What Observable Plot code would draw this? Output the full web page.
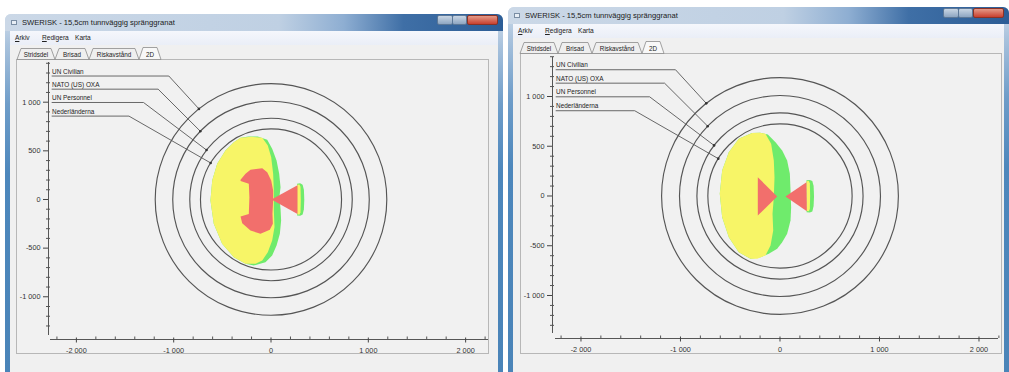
<!DOCTYPE html>
<html>
<head>
<meta charset="utf-8">
<script src="https://cdn.jsdelivr.net/npm/d3@7"></script>
<script src="https://cdn.jsdelivr.net/npm/@observablehq/plot@0.6"></script>
<style>
  html, body { margin:0; padding:0; background:#fff; width:1009px; height:372px; overflow:hidden; font-family:'Liberation Sans', Arial, sans-serif; }
  .abs { position:absolute; box-sizing:border-box; }
  .frame { border-radius:6px 6px 0 0; background:linear-gradient(180deg,#cfdcea 0px,#aac3dd 30px,#6f9dc9 90px,#4d87bc 160px,#4a84b8 100%); }
  .titlebar { border-radius:6px 6px 0 0; background:linear-gradient(90deg,#cbd8e7 0%,#bfd0e3 55%,#8eaed2 68%,#3f6fa6 80%,#2c5d96 100%); }
  .ttext { font-size:7.6px; color:#1b1b1b; white-space:nowrap; }
  .client { background:#f0f0f0; }
  .menu { background:linear-gradient(180deg,#f5f7fc,#eaeef7); font-size:6.6px; color:#222; }
  .menu span { position:absolute; top:3px; }
  .panel { border:1px solid #b7b7b7; background:#f1f1f1; }
  .btn { border:1px solid #5d7897; border-radius:2px; }
</style>
</head>
<body>
<script>
// ---------------- data ----------------
const labelNames = ["UN Civilian", "NATO (US) OXA", "UN Personnel", "Nederländerna"];
const radii      = [1190, 1010, 835, 725];          // safety-distance circles (m)
const dotAngle   = [128.5, 136, 142.5, 148.8];      // where each leader line meets its circle (deg)
const labelY     = [1269, 1134, 997, 857];          // label rows (m)
const elbowX     = [-1050, -1160, -1310, -1460];    // end of underline (m)
const labelX     = -2250;
const xMajorTicks = [-2000, -1000, 0, 1000, 2000];
const yMajorTicks = [-1000, -500, 0, 500, 1000];
const xMinorTicks = [-2200,-1800,-1600,-1400,-1200,-800,-600,-400,-200,200,400,600,800,1200,1400,1600,1800,2200];
const yMinorTicks = [-1300,-1200,-1100,-900,-800,-700,-600,-400,-300,-200,-100,100,200,300,400,600,700,800,900,1100,1200,1300,1400];

// left screenshot shapes (m)
const leftGreen = [[-313,634],[-230,648],[-137,647],[-39,613],[12,521],[57,401],[84,264],[98,127],[86,22],[98,-96],[104,-216],[91,-353],[57,-473],[12,-576],[-57,-644],[-177,-678],[-262,-661],[-382,-593],[-502,-456],[-588,-250],[-622,-10],[-604,195],[-553,367],[-468,504],[-382,589]];
const leftYellow = [[-313,634],[-200,645],[-90,634],[-33,555],[2,435],[22,264],[29,92],[29,-113],[36,-284],[12,-421],[-33,-542],[-90,-627],[-159,-661],[-262,-661],[-382,-593],[-502,-456],[-588,-250],[-622,-10],[-604,195],[-553,367],[-468,504],[-382,589]];
const leftRed = [[-313,202],[-262,264],[-211,305],[-90,322],[-39,281],[2,195],[22,92],[22,-10],[15,-147],[19,-250],[-12,-312],[-108,-353],[-211,-319],[-296,-243],[-313,-175],[-228,-150],[-222,24],[-228,161],[-313,190]];
const leftWedgeGreen = [[268,162],[300,166],[325,152],[338,100],[342,0],[338,-100],[325,-154],[300,-168],[268,-164]];
const leftWedgeYellow = [[268,152],[292,154],[303,130],[306,0],[303,-130],[292,-156],[268,-152]];
const leftTriangles = [[[5,0],[272,146],[272,-150]]];

// right screenshot shapes (m)
const rightGreen = [[-280,632],[-200,636],[-122,618],[-45,541],[22,457],[72,357],[99,223],[106,55],[112,-112],[106,-246],[72,-380],[22,-464],[-28,-531],[-112,-581],[-196,-615],[-296,-631],[-414,-565],[-514,-414],[-581,-213],[-605,22],[-581,256],[-514,440],[-414,575]];
const rightYellow = [[-280,632],[-200,636],[-146,625],[-89,525],[-62,357],[-55,189],[-62,-12],[-75,-179],[-68,-347],[-95,-497],[-146,-598],[-229,-631],[-296,-631],[-414,-565],[-514,-414],[-581,-213],[-605,22],[-581,256],[-514,440],[-414,575]];
const rightWedgeGreen = [[266,158],[300,162],[325,150],[338,100],[342,0],[338,-100],[325,-155],[300,-166],[268,-163]];
const rightWedgeYellow = [[266,148],[290,150],[300,128],[303,0],[300,-130],[290,-154],[268,-152]];
const rightTriangles = [[[-223,189],[-28,-5],[-223,-196]], [[55,-5],[266,139],[270,-153]]];

const colors = { yellow:"#f7f567", green:"#6feb6c", red:"#f26f6c", ring:"#555", lead:"#585858" };
const fmt = d => String(d).replace(/\B(?=(\d{3})+(?!\d))/g, " ");

// ---------------- window chrome ----------------
const windows = [
  {x:5, y:14, w:498, panelL:16, panelT:59, panelR:489, panelB:354, btnR:5},
  {x:508, y:7, w:501, panelL:520, panelT:53, panelR:1002, panelB:354, btnR:5}
];
const tabs = [["Stridsdel",12,50],["Brisad",50,84],["Riskavstånd",84,134],["2D",134,156]];

function el(tag, cls, style, html) {
  const e = document.createElement(tag);
  e.className = cls; e.setAttribute("style", style); if (html) e.innerHTML = html;
  document.body.appendChild(e); return e;
}
for (const W of windows) {
  el("div","abs frame",`left:${W.x}px;top:${W.y}px;width:${W.w}px;height:${380-W.y}px`);
  el("div","abs titlebar",`left:${W.x}px;top:${W.y}px;width:${W.w}px;height:17px`);
  el("div","abs",`left:${W.x+6}px;top:${W.y+6}px;width:6px;height:5px;background:#e8eef5;border:1px solid #7a8da3`);
  el("div","abs ttext",`left:${W.x+17}px;top:${W.y+4}px`, "SWERISK - 15,5cm tunnväggig spränggranat");
  const br = W.x + W.w - W.btnR;
  el("div","abs btn",`left:${br-61}px;top:${W.y+1}px;width:16px;height:10px;background:linear-gradient(#c9d6e4,#8ea6c2)`);
  el("div","abs btn",`left:${br-46}px;top:${W.y+1}px;width:15px;height:10px;background:linear-gradient(#c9d6e4,#8ea6c2)`);
  el("div","abs btn",`left:${br-31}px;top:${W.y+1}px;width:31px;height:10px;background:linear-gradient(#e49a88,#c9402f);border-color:#8a3226`);
  el("div","abs client",`left:${W.x+5}px;top:${W.y+17}px;width:${W.w-10}px;height:${372-W.y}px`);
  el("div","abs menu",`left:${W.x+5}px;top:${W.y+17}px;width:${W.w-10}px;height:14px`,
     `<span style="left:5px"><u>A</u>rkiv</span><span style="left:32px"><u>R</u>edigera</span><span style="left:65px">Karta</span>`);
  el("div","abs panel",`left:${W.panelL}px;top:${W.panelT}px;width:${W.panelR-W.panelL}px;height:${W.panelB-W.panelT}px`);
  // tabs
  const ts = document.createElementNS("http://www.w3.org/2000/svg","svg");
  ts.setAttribute("width", W.w); ts.setAttribute("height", 13);
  ts.setAttribute("style", `position:absolute;left:${W.x}px;top:${W.panelT-12}px;overflow:visible`);
  let s = "";
  tabs.forEach(([t,a,b],i) => {
    const act = i === tabs.length-1;
    const top = act ? 0 : 1;
    s += `<polygon points="${a},12.5 ${a+4},${top+0.5} ${b-4},${top+0.5} ${b},12.5" fill="${act?"#f8f8f8":"#efefef"}" stroke="#8c8c8c" stroke-width="0.8"/>`;
    s += `<text x="${(a+b)/2}" y="9.5" text-anchor="middle" font-size="6.3" fill="#222" font-family="Liberation Sans, Arial, sans-serif">${t}</text>`;
  });
  ts.innerHTML = s;
  document.body.appendChild(ts);
}

// ---------------- charts ----------------
function chart(cfg) {
  const pts = arr => arr.map(([x,y]) => ({x, y}));
  const poly = (arr, fill) => Plot.line(pts(arr), {x:"x", y:"y", fill, stroke:"none", curve:"linear-closed"});
  const rings = radii.map((r,i) => ({r, name: labelNames[i]}));
  const ends = labelNames.map((name,i) => {
    const a = dotAngle[i] * Math.PI / 180;
    return {name, x: radii[i]*Math.cos(a), y: radii[i]*Math.sin(a)};
  });
  const leaders = labelNames.flatMap((name,i) => [
    {name, x: labelX, y: labelY[i]},
    {name, x: elbowX[i], y: labelY[i]},
    {name, x: ends[i].x, y: ends[i].y}
  ]);
  const labels = labelNames.map((name,i) => ({name, x: labelX, y: labelY[i]}));
  const f = "'Liberation Sans', Arial, sans-serif";
  const svg = Plot.plot({
    width: cfg.width, height: cfg.height,
    marginLeft: cfg.mL, marginRight: cfg.mR, marginTop: cfg.mT, marginBottom: cfg.mB,
    x: {domain: cfg.xDomain, label: null},
    y: {domain: cfg.yDomain, label: null},
    r: {type: "linear", domain: [0, 1000], range: [0, cfg.px]},
    style: {background: "transparent", overflow: "visible", fontFamily: f},
    marks: [
      poly(cfg.green, colors.green),
      poly(cfg.yellow, colors.yellow),
      ...(cfg.red ? [poly(cfg.red, colors.red)] : []),
      poly(cfg.wedgeGreen, colors.green),
      poly(cfg.wedgeYellow, colors.yellow),
      ...cfg.triangles.map(t => poly(t, colors.red)),
      Plot.dot(rings, {x: () => 0, y: () => 0, r: "r", stroke: colors.ring, strokeWidth: 1.15, fill: "none"}),
      Plot.line(leaders, {x: "x", y: "y", z: "name", stroke: colors.lead, strokeWidth: 0.9}),
      Plot.dot(ends, {x: "x", y: "y", r: 1.3, fill: "#333", stroke: "none"}),
      Plot.text(labels, {x: "x", y: "y", text: "name", textAnchor: "start", dy: -4.5, fontSize: 6.4, fill: "#222"}),
      // axes
      Plot.ruleX([cfg.xDomain[0]], {dx: cfg.axDx, stroke: "#444", strokeWidth: 0.9}),
      Plot.ruleY([cfg.yDomain[0]], {dy: cfg.axDy, stroke: "#444", strokeWidth: 0.9}),
      Plot.axisY({ticks: yMinorTicks, tickSize: 4, dx: cfg.axDx + 2, tickFormat: () => "", stroke: "#555", label: null}),
      Plot.axisY({ticks: yMajorTicks, tickSize: 5, dx: cfg.axDx, tickPadding: 3, tickFormat: fmt, fontSize: 7.3, fill: "#333", stroke: "#444", label: null}),
      Plot.axisX({ticks: xMinorTicks, tickSize: 2.5, dy: cfg.axDy - 2.5, tickFormat: () => "", stroke: "#555", label: null}),
      Plot.axisX({ticks: xMajorTicks, tickSize: 5, dy: cfg.axDy - 1.5, tickPadding: 5, tickFormat: fmt, fontSize: 7.3, fill: "#333", stroke: "#444", label: null})
    ]
  });
  svg.style.position = "absolute";
  svg.style.left = cfg.svgL + "px";
  svg.style.top = cfg.svgT + "px";
  document.body.appendChild(svg);
}

chart({svgL:16, svgT:59, width:473, height:301, mL:34, mR:1, mT:3, mB:25,
       xDomain:[-2266, 2235], yDomain:[-1398, 1408], px:97.3, axDx:-2, axDy:4,
       green:leftGreen, yellow:leftYellow, red:leftRed, wedgeGreen:leftWedgeGreen, wedgeYellow:leftWedgeYellow, triangles:leftTriangles});
chart({svgL:520, svgT:53, width:483, height:307, mL:35, mR:5, mT:4, mB:27,
       xDomain:[-2256, 2196], yDomain:[-1382, 1392], px:99.5, axDx:-3, axDy:5,
       green:rightGreen, yellow:rightYellow, red:null, wedgeGreen:rightWedgeGreen, wedgeYellow:rightWedgeYellow, triangles:rightTriangles});
</script>
</body>
</html>
